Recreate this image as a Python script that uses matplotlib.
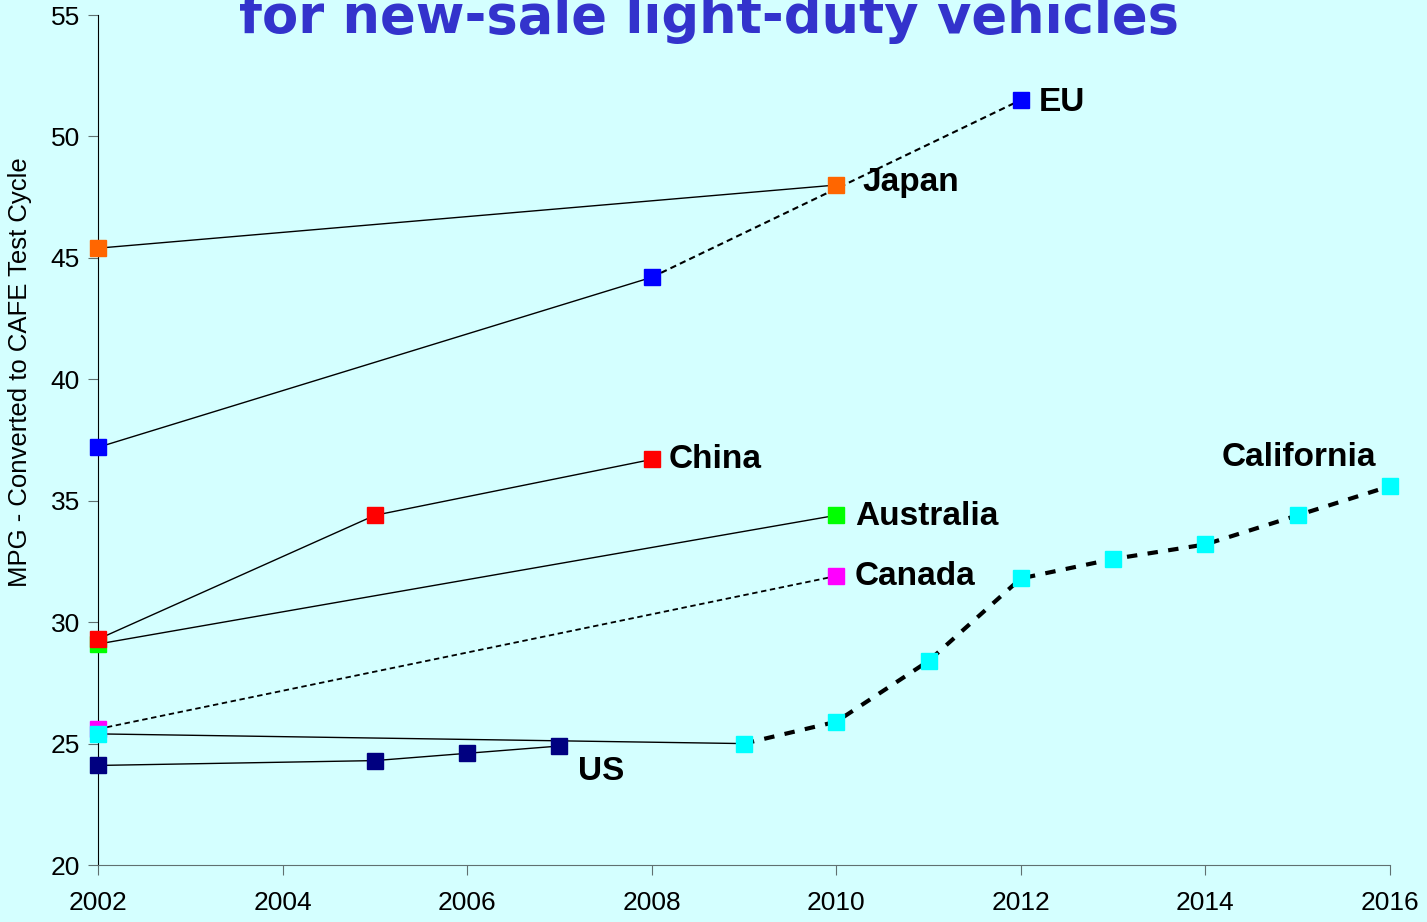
import matplotlib
matplotlib.use("Agg")
import matplotlib.pyplot as plt

# fuel economy standards, MPG converted to CAFE test cycle
jp_years = [2002, 2010]
jp_mpg = [45.4, 48.0]

eu_years = [2002, 2008, 2012]
eu_mpg = [37.2, 44.2, 51.5]

cn_years = [2002, 2005, 2008]
cn_mpg = [29.3, 34.4, 36.7]

au_years = [2002, 2010]
au_mpg = [29.1, 34.4]

ca_years = [2002, 2010]
ca_mpg = [25.6, 31.9]

us_years = [2002, 2005, 2006, 2007]
us_mpg = [24.1, 24.3, 24.6, 24.9]

cal_years = [2002, 2009, 2010, 2011, 2012, 2013, 2014, 2015, 2016]
cal_mpg = [25.4, 25.0, 25.9, 28.4, 31.8, 32.6, 33.2, 34.4, 35.6]

bg = "#d4ffff"
fig = plt.figure(figsize=(14.27, 9.22), dpi=100, facecolor=bg)
ax = fig.add_axes([0.0687, 0.0618, 0.9053, 0.9219], facecolor=bg)

# (years, values, marker colour, index where dashed part starts, dash width)
series = [
    (ca_years, ca_mpg, "#ff00ff", 0, 1.3),
    (au_years, au_mpg, "#00ff00", None, 1.0),
    (cn_years, cn_mpg, "#ff0000", None, 1.0),
    (jp_years, jp_mpg, "#ff6600", None, 1.0),
    (eu_years, eu_mpg, "#0000ff", 1, 1.5),
    (us_years, us_mpg, "#000080", None, 1.0),
    (cal_years, cal_mpg, "#00ffff", 1, 3.0),
]

for yrs, vals, col, dash_from, dlw in series:
    if dash_from is None:
        ax.plot(yrs, vals, color="black", lw=1.0, zorder=2)
    else:
        if dash_from > 0:
            ax.plot(yrs[:dash_from + 1], vals[:dash_from + 1], color="black", lw=1.0, zorder=2)
        ax.plot(yrs[dash_from:], vals[dash_from:], color="black", lw=dlw,
                ls=(0, (3, 2)) if dlw < 2 else (0, (2.5, 2.5)), zorder=2)
    ax.plot(yrs, vals, ls="", marker="s", ms=11, color=col, mec=col, zorder=3, clip_on=False)

lab = dict(fontsize=24, fontweight="bold", family="Liberation Sans", va="center")
ax.text(2012.2, 51.4, "EU", **lab)
ax.text(2010.28, 48.1, "Japan", **lab)
ax.text(2008.18, 36.7, "China", **lab)
ax.text(2010.2, 34.35, "Australia", **lab)
ax.text(2010.2, 31.9, "Canada", **lab)
ax.text(2007.2, 23.85, "US", **lab)
ax.text(2014.18, 36.8, "California", **lab)

ax.set_xlim(2002, 2016)
ax.set_ylim(20, 55)
ax.set_xticks(range(2002, 2017, 2))
ax.set_yticks(range(20, 56, 5))
for s in ["top", "right"]:
    ax.spines[s].set_visible(False)
ax.spines["bottom"].set_color("#607070")
ax.spines["left"].set_color("black")
ax.tick_params(axis="x", length=7, color="#607070", labelsize=19, pad=12)
ax.tick_params(axis="y", length=7, color="#607070", labelsize=19, pad=6)
for t in ax.get_xticklabels() + ax.get_yticklabels():
    t.set_family("Liberation Sans")
ax.set_ylabel("MPG - Converted to CAFE Test Cycle", fontsize=18.5,
              family="Liberation Sans")
ax.yaxis.set_label_coords(-0.051, 0.58)

fig.text(0.497, 1 - 33 / 922, "for new-sale light-duty vehicles", ha="center",
         va="baseline", fontsize=38, fontweight="bold", color="#3333cc")

fig.savefig("out.png", dpi=100, facecolor=bg)
